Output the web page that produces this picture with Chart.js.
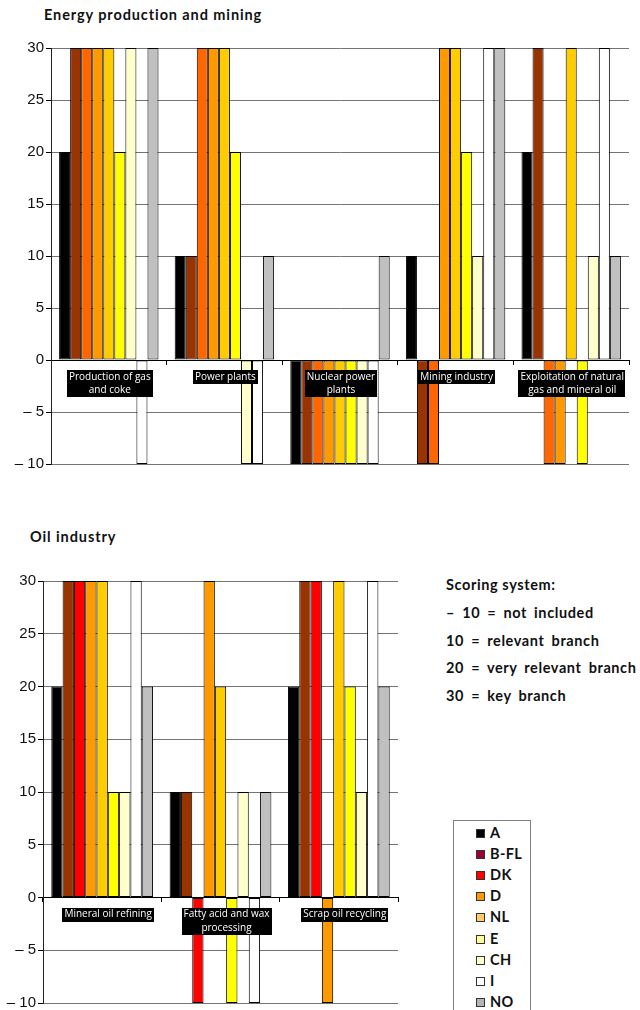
<!DOCTYPE html>
<html>
<head>
<meta charset="utf-8">
<script src="https://cdn.jsdelivr.net/npm/chart.js@4/dist/chart.umd.min.js"></script>
<style>
  html, body { margin: 0; padding: 0; background: #fff; }
  body { width: 640px; height: 1010px; position: relative; overflow: hidden; }
  .title { position: absolute; font-family: Lato, "Open Sans", sans-serif; font-weight: bold; font-size: 14.5px; letter-spacing: 0.9px; color: #111; line-height: 1; white-space: nowrap; }
  canvas { position: absolute; left: 0; }
  #scoring { position: absolute; left: 446px; top: 576px; font-family: Lato, "Open Sans", sans-serif; font-weight: bold; font-size: 14.5px; letter-spacing: 0.6px; color: #111; }
  #scoring div { height: 27.8px; line-height: 18px; white-space: nowrap; word-spacing: 3px; }
  #legend { position: absolute; left: 453px; top: 820px; width: 78px; height: 200px; border: 1px solid #808080; box-sizing: border-box; background: #fff; }
  #legend .item { position: absolute; left: 22px; height: 18px; font-family: Lato, "Open Sans", sans-serif; font-weight: bold; font-size: 14.5px; letter-spacing: 0.4px; color: #111; line-height: 18px; white-space: nowrap; }
  #legend .sw { display: inline-block; width: 9px; height: 9px; border: 1px solid #333; box-sizing: border-box; margin-right: 5px; vertical-align: 0px; }
</style>
</head>
<body>
<div class="title" style="left:44px; top:8px;">Energy production and mining</div>
<canvas id="energy" width="640" height="480" style="top:0px;"></canvas>

<div class="title" style="left:30px; top:530px;">Oil industry</div>
<canvas id="oil" width="410" height="500" style="top:520px;"></canvas>

<div id="scoring"><div style="word-spacing:0">Scoring system:</div><div>– 10 = not included</div><div>10 = relevant branch</div><div>20 = very relevant branch</div><div>30 = key branch</div></div>

<div id="legend"></div>

<script>
// Countries (one dataset per country)
const countries = ['A', 'B-FL', 'DK', 'D', 'NL', 'E', 'CH', 'I', 'NO'];

// Energy production and mining
const energyCategories = [
  ['Production of gas', 'and coke'],
  'Power plants',
  ['Nuclear power', 'plants'],
  'Mining industry',
  ['Exploitation of natural', 'gas and mineral oil']
];
const energyA    = [20, 10, -10, 10, 20];
const energyBFL  = [30, 10, -10, -10, 30];
const energyDK   = [30, 30, -10, -10, -10];
const energyD    = [30, 30, -10, 30, -10];
const energyNL   = [30, 30, -10, 30, 30];
const energyE    = [20, 20, -10, 20, -10];
const energyCH   = [30, -10, -10, 10, 10];
const energyI    = [-10, -10, -10, 30, 30];
const energyNO   = [30, 10, 10, 30, 10];

// Oil industry
const oilCategories = [
  'Mineral oil refining',
  ['Fatty acid and wax', 'processing'],
  'Scrap oil recycling'
];
const oilA   = [20, 10, 20];
const oilBFL = [30, 10, 30];
const oilDK  = [30, -10, 30];
const oilD   = [30, 30, -10];
const oilNL  = [30, 20, 30];
const oilE   = [10, -10, 20];
const oilCH  = [10, 10, 10];
const oilI   = [30, -10, 30];
const oilNO  = [20, 10, 20];

// Value axis ticks
const yTickValues = [-10, -5, 0, 5, 10, 15, 20, 25, 30];
const yTickLabels = ['– 10', '– 5', '0', '5', '10', '15', '20', '25', '30'];

// Bar fills
const energyColors = ['#000000', '#993300', '#FF6600', '#FF9900', '#FFCC00', '#FFFF00', '#FFFFCC', '#FFFFFF', '#C0C0C0'];
const oilColors    = ['#000000', '#993300', '#FF0000', '#FF9900', '#FFCC00', '#FFFF00', '#FFFFCC', '#FFFFFF', '#C0C0C0'];
const legendColors = ['#000000', '#990033', '#FF0000', '#FF9900', '#FFCC66', '#FFFF99', '#FFFFCC', '#FFFFFF', '#B4B4B4'];

const LABEL_SIZE = 10;
const LABEL_LH = 13.5;

// Black boxes behind the category labels: drawn after the bars and
// before the tick labels (which sit on layer z = 1).
const labelBoxes = {
  id: 'labelBoxes',
  afterDatasetsDraw(chart) {
    const scale = chart.scales.x;
    const items = scale.getLabelItems(chart.chartArea);
    const ctx = chart.ctx;
    ctx.save();
    ctx.fillStyle = '#000';
    items.forEach((item) => {
      const lines = Array.isArray(item.label) ? item.label : [item.label];
      ctx.font = item.font.string;
      const w = Math.max(...lines.map((l) => ctx.measureText(l).width));
      const lh = item.font.lineHeight;
      const [x, y] = item.options.translation;
      const off = item.textOffset !== undefined ? item.textOffset : item.options.textOffset;
      const top = y + off - lh / 2;
      ctx.fillRect(Math.round(x - w / 2 - 2), Math.round(top), Math.round(w + 4), Math.round(lh * lines.length));
    });
    ctx.restore();
  }
};

function makeDatasets(series, colors) {
  return series.map((data, i) => ({
    label: countries[i],
    data: data,
    backgroundColor: colors[i],
    borderColor: '#000',
    borderWidth: 1,
    borderSkipped: false,
    categoryPercentage: 0.86,
    barPercentage: 1.0
  }));
}

function makeOptions(axisWidth, padding, labelOffset) {
  return {
    responsive: false,
    animation: false,
    devicePixelRatio: 1,
    layout: { padding: padding },
    plugins: { legend: { display: false }, tooltip: { enabled: false }, title: { display: false } },
    scales: {
      x: {
        type: 'category',
        position: { y: 0 },
        offset: true,
        grid: {
          offset: true,
          drawOnChartArea: true,
          drawTicks: true,
          tickLength: 4,
          tickColor: '#000',
          color: (c) => (c.index === c.chart.data.labels.length ? '#8c8c8c' : 'rgba(0,0,0,0)')
        },
        border: { display: true, color: '#000', width: 1 },
        ticks: {
          z: 1,
          autoSkip: false,
          maxRotation: 0,
          minRotation: 0,
          padding: 6,
          labelOffset: labelOffset,
          color: '#fff',
          font: { family: '"Open Sans", "DejaVu Sans", sans-serif', size: LABEL_SIZE, lineHeight: LABEL_LH / LABEL_SIZE }
        }
      },
      y: {
        min: -10,
        max: 30,
        afterFit: (s) => { s.width = axisWidth; },
        grid: {
          color: (c) => (c.tick && c.tick.value === 0 ? '#000' : '#747474'),
          tickColor: '#000',
          tickLength: 5,
          lineWidth: 1
        },
        border: { display: true, color: '#222', width: 1 },
        ticks: {
          stepSize: 5,
          padding: 2,
          color: '#111',
          font: { family: '"Liberation Sans", Arial, sans-serif', size: 15 },
          callback: (v) => {
            const i = yTickValues.indexOf(v);
            return i >= 0 ? yTickLabels[i] : '';
          }
        }
      }
    }
  };
}

new Chart(document.getElementById('energy'), {
  type: 'bar',
  data: {
    labels: energyCategories,
    datasets: makeDatasets([energyA, energyBFL, energyDK, energyD, energyNL, energyE, energyCH, energyI, energyNO], energyColors)
  },
  options: makeOptions(51, { top: 48, right: 11, bottom: 16, left: 0 }, 1),
  plugins: [labelBoxes]
});

new Chart(document.getElementById('oil'), {
  type: 'bar',
  data: {
    labels: oilCategories,
    datasets: makeDatasets([oilA, oilBFL, oilDK, oilD, oilNL, oilE, oilCH, oilI, oilNO], oilColors)
  },
  options: makeOptions(43, { top: 61, right: 12, bottom: 17, left: 0 }, 6),
  plugins: [labelBoxes]
});

// Country key
const legend = document.getElementById('legend');
countries.forEach((name, i) => {
  const item = document.createElement('div');
  item.className = 'item';
  item.style.top = (3 + i * 21.1) + 'px';
  const sw = document.createElement('span');
  sw.className = 'sw';
  sw.style.background = legendColors[i];
  item.appendChild(sw);
  item.appendChild(document.createTextNode(name));
  legend.appendChild(item);
});
</script>
</body>
</html>
